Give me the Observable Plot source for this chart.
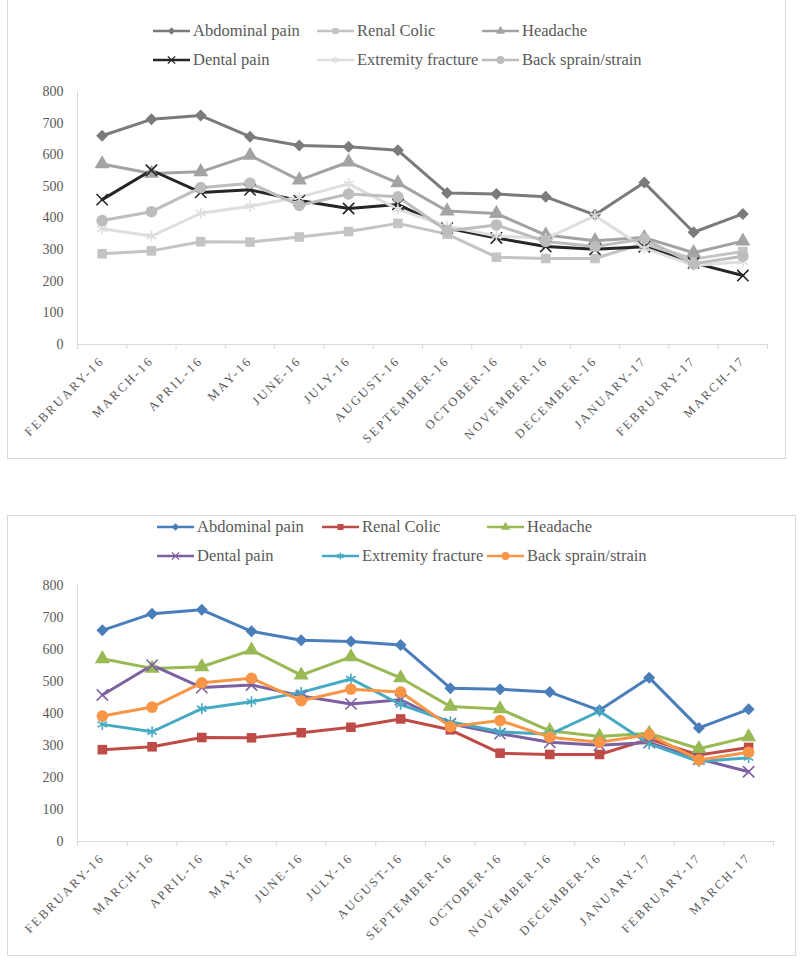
<!DOCTYPE html>
<html>
<head>
<meta charset="utf-8">
<script src="https://cdn.jsdelivr.net/npm/d3@7"></script>
<script src="https://cdn.jsdelivr.net/npm/@observablehq/plot@0.6"></script>
<style>
  html, body { margin: 0; padding: 0; background: #fff; }
  body { width: 800px; height: 964px; position: relative; overflow: hidden; font-family: "Liberation Serif", serif; }
  .frame { position: absolute; border: 1px solid #d9d9d9; box-sizing: border-box; }
  .chart { position: absolute; left: 0; }
  .legend { position: absolute; font-family: "Liberation Serif", "DejaVu Serif", serif; font-size: 16.5px; color: #595959; }
  .item { position: absolute; display: flex; align-items: center; white-space: nowrap; }
  .item svg { margin-right: 3px; }
  g[aria-label="x-axis tick label"] text { letter-spacing: 2.3px; }
</style>
</head>
<body>
<div class="frame" style="left:7px; top:-2px; width:779px; height:461px;"></div>
<div class="frame" style="left:7px; top:515px; width:789px; height:441px;"></div>
<div id="top" class="chart" style="top:0px;"></div>
<div id="bottom" class="chart" style="top:480px;"></div>
<div id="legTop" class="legend" style="left:0; top:0;"></div>
<div id="legBottom" class="legend" style="left:0; top:0;"></div>
<script>
// ---- data ----
const months = ["FEBRUARY-16","MARCH-16","APRIL-16","MAY-16","JUNE-16","JULY-16","AUGUST-16","SEPTEMBER-16","OCTOBER-16","NOVEMBER-16","DECEMBER-16","JANUARY-17","FEBRUARY-17","MARCH-17"];
const seriesNames = ["Abdominal pain","Renal Colic","Headache","Dental pain","Extremity fracture","Back sprain/strain"];
const abdominalPain = [660,712,724,657,629,625,614,479,476,467,410,512,355,413];
const renalColic = [287,296,325,324,340,357,383,349,276,272,272,320,270,294];
const headache = [571,541,546,598,520,577,511,422,414,346,328,338,290,327];
const dentalPain = [458,551,481,489,455,430,443,368,337,310,301,309,258,218];
const extremityFracture = [366,343,415,437,466,508,428,374,343,335,407,305,250,262];
const backSprain = [392,420,496,510,440,476,467,359,378,326,310,334,255,279];
const yTicks = [0,100,200,300,400,500,600,700,800];

const values = [abdominalPain, renalColic, headache, dentalPain, extremityFracture, backSprain];
const symbols = [d3.symbolDiamond2, d3.symbolSquare, d3.symbolTriangle, d3.symbolTimes, d3.symbolAsterisk, d3.symbolCircle];
const filled = [true, true, true, false, false, true];
const grayColors = ["#7b7b7b","#c4c4c4","#a3a3a3","#262626","#dedede","#bdbdbd"];
const colorColors = ["#4a7ebb","#be4b48","#98b954","#7d60a0","#46aac5","#f79646"];

const rows = [];
seriesNames.forEach((s, si) => values[si].forEach((v, i) => rows.push({series: s, si, month: months[i], idx: i, value: v})));

function makeChart(colors, opts) {
  const marks = [
    Plot.ruleX([0], {stroke: "#d9d9d9", strokeWidth: 1}),
    Plot.ruleY([0], {stroke: "#d9d9d9", strokeWidth: 1}),
    Plot.axisY({ticks: yTicks, tickSize: 0, tickPadding: 14, tickFormat: d3.format("d"), fontSize: 14, fill: "#595959", label: null}),
    Plot.axisX({ticks: d3.range(0, months.length + 1), tickSize: 5, tickFormat: () => "", stroke: "#d9d9d9", label: null}),
    Plot.axisX({ticks: months.map((m, i) => i + 0.5), tickSize: 0, tickPadding: opts.tickPad, tickRotate: -45,
      tickFormat: d => months[Math.round(d - 0.5)], fontSize: 12.5, fill: "#595959", label: null})
  ];
  seriesNames.forEach((s, si) => {
    const data = rows.filter(r => r.si === si);
    marks.push(Plot.line(data, {x: d => d.idx + 0.5, y: "value", stroke: colors[si], strokeWidth: 3, strokeLinejoin: "round"}));
  });
  seriesNames.forEach((s, si) => {
    const data = rows.filter(r => r.si === si);
    const r = si === 5 ? 5.8 : si === 1 ? 5.4 : si === 0 ? 5.4 : si === 2 ? 5.6 : 5.2;
    marks.push(Plot.dot(data, filled[si]
      ? {x: d => d.idx + 0.5, y: "value", symbol: symbols[si], r, fill: colors[si], stroke: "none"}
      : {x: d => d.idx + 0.5, y: "value", symbol: symbols[si], r, fill: "none", stroke: colors[si], strokeWidth: 1.6}));
  });
  return Plot.plot({
    width: 800,
    height: opts.height,
    marginLeft: 77,
    marginRight: opts.marginRight,
    marginTop: opts.marginTop,
    marginBottom: opts.marginBottom,
    style: {fontFamily: "'Liberation Serif', serif", background: "transparent", overflow: "visible"},
    x: {type: "linear", domain: [0, months.length], axis: null},
    y: {domain: [0, 800], axis: null},
    marks
  });
}

document.getElementById("top").append(makeChart(grayColors, {height: 460, marginRight: 33, marginTop: 91, marginBottom: 116, tickPad: 14}));
document.getElementById("bottom").append(makeChart(colorColors, {height: 484, marginRight: 27, marginTop: 105, marginBottom: 123, tickPad: 14}));

function legend(el, colors, pos) {
  seriesNames.forEach((s, si) => {
    const p = pos[si];
    const div = document.createElement("div");
    div.className = "item";
    div.style.left = p[0] + "px";
    div.style.top = (p[1] - 11) + "px";
    div.style.height = "22px";
    const sym = d3.symbol(symbols[si], si === 5 ? 50 : 36)();
    const paint = filled[si] ? `fill="${colors[si]}" stroke="none"` : `fill="none" stroke="${colors[si]}" stroke-width="1.4"`;
    div.innerHTML = `<svg width="37" height="14" viewBox="0 0 37 14"><line x1="0" y1="7" x2="37" y2="7" stroke="${colors[si]}" stroke-width="2.6"/><path d="${sym}" transform="translate(18.5,7)" ${paint}/></svg><span>${s}</span>`;
    el.append(div);
  });
}
legend(document.getElementById("legTop"), grayColors,
  [[153,31],[317,31],[482,31],[153,60],[317,60],[482,60]]);
legend(document.getElementById("legBottom"), colorColors,
  [[157,527],[322,527],[487,527],[157,556],[322,556],[487,556]]);
</script>
</body>
</html>
